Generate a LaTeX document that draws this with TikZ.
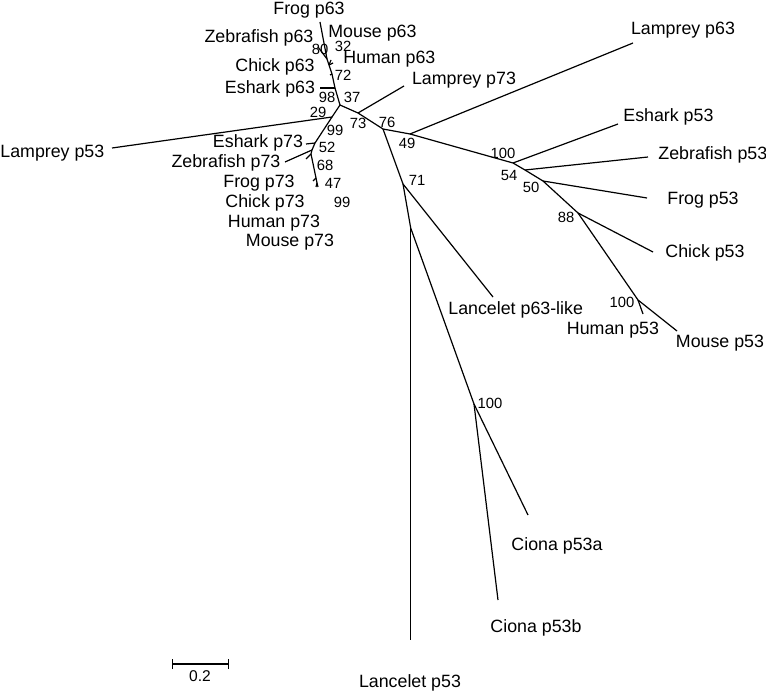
\documentclass[tikz,border=0pt]{standalone}
\usepackage{fontspec}
\setmainfont{Liberation Sans}
\usepackage{tikz}
\usetikzlibrary{arrows.meta}

\begin{document}
\begin{tikzpicture}[x=0.5pt, y=-0.5pt,
    leaf/.style={font=\fontsize{8.9}{10}\selectfont, inner sep=0pt},
    boot/.style={font=\fontsize{7.4}{8}\selectfont, inner sep=0pt},
    branch/.style={line width=0.6pt}]
  \useasboundingbox (0,0) rectangle (766,695);
  % inner nodes
  \coordinate (p63) at (340,105);
  \coordinate (n29) at (332,117);
  \coordinate (l73j) at (358,113);
  \coordinate (n76) at (383,129);
  \coordinate (n49) at (410,134);
  \coordinate (n100a) at (513,163);
  \coordinate (n54) at (525,170);
  \coordinate (n50) at (543,181);
  \coordinate (n88) at (578,213);
  \coordinate (n100b) at (638,300);
  \coordinate (n71) at (403,184);
  \coordinate (nlan) at (410.7,228);
  \coordinate (nci) at (474,404);
  \coordinate (n98) at (335,88);
  \coordinate (n72) at (332,74);
  \coordinate (n32) at (329,65);
  \coordinate (n80) at (327,59);
  \coordinate (n99) at (315,143);
  \coordinate (n52) at (312,150);
  \coordinate (n68) at (311,154);
  \coordinate (n47) at (316,178);
  \coordinate (n99b) at (317,183);
  % leaves
  \coordinate (lp53) at (112,148);
  \coordinate (lp73) at (404,86);
  \coordinate (lp63) at (633,43);
  \coordinate (ep53) at (618,124);
  \coordinate (zp53) at (648,157);
  \coordinate (fp53) at (647,198);
  \coordinate (cp53) at (653,252);
  \coordinate (hp53) at (643,314);
  \coordinate (mp53) at (677,331);
  \coordinate (lanl) at (493,297);
  \coordinate (cia) at (528,515);
  \coordinate (cib) at (498,600);
  \coordinate (lanp53) at (410.7,640);
  \coordinate (ep63) at (320,88);
  \coordinate (cp63) at (330,75);
  \coordinate (mp63) at (331,60);
  \coordinate (hp63) at (333,63);
  \coordinate (fp63) at (320,22);
  \coordinate (zp63) at (318,47);
  \coordinate (ep73) at (306,144);
  \coordinate (zp73) at (285,162);
  \coordinate (fp73) at (306,159);
  \coordinate (cp73) at (313,181);
  \coordinate (hp73) at (316,187);
  \coordinate (mp73) at (318,187);

  \draw[branch] (lp53) -- (n29) -- (p63) -- (l73j) -- (n76) -- (n49) -- (n100a) -- (n54) -- (n50) -- (n88) -- (n100b) -- (mp53);
  \draw[branch] (l73j) -- (lp73);
  \draw[branch] (n49) -- (lp63);
  \draw[branch] (n100a) -- (ep53);
  \draw[branch] (n54) -- (zp53);
  \draw[branch] (n50) -- (fp53);
  \draw[branch] (n88) -- (cp53);
  \draw[branch] (n100b) -- (hp53);
  \draw[branch] (n76) -- (n71) -- (nlan) -- (nci) -- (cia);
  \draw[branch] (n71) -- (lanl);
  \draw[branch] (nlan) -- (lanp53);
  \draw[branch] (nci) -- (cib);
  \draw[branch] (p63) -- (n98) -- (n72) -- (n32) -- (n80) -- (fp63);
  \draw[branch] (n80) -- (zp63);
  \draw[branch] (n98) -- (ep63);
  \draw[branch] (n72) -- (cp63);
  \draw[branch] (n32) -- (mp63);
  \draw[branch] (n32) -- (hp63);
  \draw[branch] (n29) -- (n99) -- (n52) -- (n68) -- (n47) -- (n99b) -- (hp73);
  \draw[branch] (n99) -- (ep73);
  \draw[branch] (n52) -- (zp73);
  \draw[branch] (n68) -- (fp73);
  \draw[branch] (n47) -- (cp73);
  \draw[branch] (n99b) -- (mp73);

  % taxa
  \node[leaf] (tfp63) at (309,10) {Frog p63};
  \node[leaf] (tzp63) at (259,38) {Zebrafish p63};
  \node[leaf, anchor=west] (tmp63) at (328,33) {Mouse p63};
  \node[leaf, anchor=west] (thp63) at (343,59) {Human p63};
  \node[leaf] (tcp63) at (275,67) {Chick p63};
  \node[leaf] (tep63) at (270,89) {Eshark p63};
  \node[leaf] (tlp73) at (464,80) {Lamprey p73};
  \node[leaf] (tlp63) at (683,30) {Lamprey p63};
  \node[leaf, anchor=west] (tlp53) at (0,153) {Lamprey p53};
  \node[leaf] (tep73) at (258,143) {Eshark p73};
  \node[leaf] (tzp73) at (226,163) {Zebrafish p73};
  \node[leaf] (tfp73) at (259,183) {Frog p73};
  \node[leaf] (tcp73) at (265,203) {Chick p73};
  \node[leaf] (thp73) at (274,223) {Human p73};
  \node[leaf] (tmp73) at (290,242) {Mouse p73};
  \node[leaf, anchor=west] (tep53) at (623,117) {Eshark p53};
  \node[leaf, anchor=west] (tzp53) at (658,155) {Zebrafish p53};
  \node[leaf, anchor=west] (tfp53) at (667,200) {Frog p53};
  \node[leaf, anchor=west] (tcp53) at (665,253) {Chick p53};
  \node[leaf] (thp53) at (613,330) {Human p53};
  \node[leaf] (tmp53) at (720,343) {Mouse p53};
  \node[leaf, anchor=west] (tlanl) at (448,310) {Lancelet p63-like};
  \node[leaf] (tcia) at (557,546) {Ciona p53a};
  \node[leaf] (tcib) at (536,628) {Ciona p53b};
  \node[leaf] (tlanp53) at (410,683) {Lancelet p53};

  % bootstrap values
  \node[boot] (b80) at (320,49) {80};
  \node[boot] (b32) at (343,46) {32};
  \node[boot] (b72) at (343,75) {72};
  \node[boot] (b98) at (327,97) {98};
  \node[boot] (b37) at (352,97) {37};
  \node[boot] (b29) at (318,112) {29};
  \node[boot] (b99) at (335,130) {99};
  \node[boot] (b52) at (327,147) {52};
  \node[boot] (b68) at (325,165) {68};
  \node[boot] (b47) at (333,183) {47};
  \node[boot] (b99b) at (342,202) {99};
  \node[boot] (b73) at (358,123) {73};
  \node[boot] (b76) at (387,122) {76};
  \node[boot] (b49) at (407,143) {49};
  \node[boot] (b100a) at (503,153) {100};
  \node[boot] (b54) at (509,175) {54};
  \node[boot] (b50) at (531,187) {50};
  \node[boot] (b88) at (566,217) {88};
  \node[boot] (b100b) at (622,302) {100};
  \node[boot] (b71) at (417,180) {71};
  \node[boot] (b100c) at (490,403) {100};

  % scale
  \coordinate (sa) at (172,664);
  \coordinate (sb) at (229,664);
  \draw[branch, {Bar[width=5pt]}-{Bar[width=5pt]}] (sa) -- (sb);
  \node[boot, font=\fontsize{7.8}{9}\selectfont] (tscale) at (200,676) {0.2};
\end{tikzpicture}
\end{document}
